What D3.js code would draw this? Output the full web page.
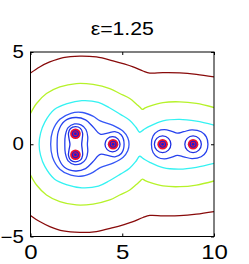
<!DOCTYPE html>
<html lang="en">
<head>
<meta charset="UTF-8">
<title>eps 1.25</title>
<script src="https://cdn.jsdelivr.net/npm/d3@7"></script>
<style>
    body { margin: 0; background: #fff; }
    svg text { font-family: "Liberation Sans", Arial, sans-serif; fill: #000; }
</style>
</head>
<body>
<script>
    const w = 249, h = 264;

    const title = "ε=1.25";
    const xTicks = [0, 5, 10];
    const yTicks = [-5, 0, 5];

    // charge positions
    const charges = [[2.45, 0.57], [2.45, -0.57], [4.5, 0], [7.2, 0], [8.86, 0]];

    // upper halves of the contour lines (picture is symmetric about y = 0)
    const darkRedTop = [[0, 3.86], [0.5, 4.19], [1.05, 4.46], [1.78, 4.7], [2.69, 4.78], [3.59, 4.73], [4.5, 4.52],
        [5.1, 4.35], [5.59, 4.19], [6.13, 3.97], [6.5, 3.86], [7.22, 3.88], [8.13, 3.87], [9.04, 3.79], [10, 3.65]];
    const yellowTop = [[0, 1.67], [0.33, 2.21], [0.87, 2.75], [1.6, 3.11], [2.5, 3.29], [3.41, 3.24], [4.32, 3.02],
        [4.86, 2.75], [5.41, 2.48], [5.75, 2.2], [5.97, 2.0], [6.1, 1.89], [6.25, 1.97], [6.5, 2.07], [7.22, 2.26],
        [8.13, 2.3], [9.04, 2.21], [10, 1.99]];
    // runs from the right edge round the left group back to y = 0
    const cyanTop = [[10, 1.04], [9.04, 1.25], [8.13, 1.35], [7.22, 1.27], [6.5, 0.98], [6.15, 0.78], [5.95, 0.65],
        [5.75, 0.92], [5.4, 1.3], [4.9, 1.62], [4.3, 1.98], [3.7, 2.27], [2.8, 2.36], [2.0, 2.2], [1.3, 1.88],
        [0.78, 1.2], [0.55, 0.6], [0.47, 0]];
    const blueOuterTop = [[1.1, 0], [1.2, 0.7], [1.6, 1.35], [2.2, 1.68], [2.85, 1.72], [3.4, 1.52], [3.8, 1.27],
        [4.5, 1.02], [5.05, 0.7], [5.3, 0.35], [5.37, 0]];
    const blueSecondTop = [[1.45, 0], [1.52, 0.7], [1.85, 1.25], [2.45, 1.45], [3.0, 1.32], [3.4, 0.95], [3.8, 0.55],
        [4.2, 0.6], [4.6, 0.68], [4.95, 0.5], [5.1, 0]];
    const pairOvalTop = [[1.87, 0], [1.9, 0.5], [2.05, 0.9], [2.4, 1.1], [2.75, 1.05], [3.02, 0.8], [3.12, 0.4], [3.1, 0]];
    const pairInnerTop = [[2.15, 0], [2.1, 0.3], [2.07, 0.6], [2.18, 0.85], [2.45, 0.95], [2.72, 0.86], [2.84, 0.6],
        [2.82, 0.3], [2.79, 0]];
    const rightPairTop = [[6.59, 0], [6.68, 0.45], [6.95, 0.72], [7.3, 0.79], [7.7, 0.7], [8.0, 0.6], [8.35, 0.68],
        [8.8, 0.78], [9.3, 0.68], [9.58, 0.4], [9.67, 0]];
    // single rings [cx, cy, r]
    const rings = [[4.47, 0, 0.41], [7.2, 0, 0.45], [8.86, 0, 0.45]];

    const colDarkRed = "#880a0a", colYellow = "#b6f22a", colCyan = "#34f2f2",
        colBlueOut = "#3456f6", colBlue = "#2742ee", colBlueIn = "#1f30e2";

    const x = d3.scaleLinear().domain([0, 10]).range([30.5, 214]);
    const y = d3.scaleLinear().domain([-5, 5]).range([236.5, 52]);

    const svg = d3.select("body").append("svg")
        .attr("width", w)
        .attr("height", h);

    svg.append("clipPath").attr("id", "plotclip")
        .append("rect")
        .attr("x", x(0)).attr("y", y(5))
        .attr("width", x(10) - x(0)).attr("height", y(-5) - y(5));

    const mirror = (p) => [p[0], -p[1]];

    const openLine = d3.line().x(d => x(d[0])).y(d => y(d[1])).curve(d3.curveCatmullRom.alpha(0.5));
    const closedLine = d3.line().x(d => x(d[0])).y(d => y(d[1])).curve(d3.curveCatmullRomClosed.alpha(0.5));

    // closed curve from its upper half (first and last points on y = 0)
    const closeUp = (top) => top.concat(top.slice(1, -1).reverse().map(mirror));

    const curves = [
        { pts: darkRedTop, col: colDarkRed, closed: false },
        { pts: darkRedTop.map(mirror), col: colDarkRed, closed: false },
        { pts: yellowTop, col: colYellow, closed: false },
        { pts: yellowTop.map(mirror), col: colYellow, closed: false },
        { pts: cyanTop.concat(cyanTop.slice(0, -1).reverse().map(mirror)), col: colCyan, closed: false },
        { pts: closeUp(blueOuterTop), col: colBlueOut, closed: true },
        { pts: closeUp(blueSecondTop), col: colBlue, closed: true },
        { pts: closeUp(pairOvalTop), col: colBlue, closed: true },
        { pts: closeUp(pairInnerTop), col: colBlueIn, closed: true },
        { pts: closeUp(rightPairTop), col: colBlue, closed: true }
    ];

    const plot = svg.append("g").attr("clip-path", "url(#plotclip)");

    plot.selectAll("path.contour")
        .data(curves)
        .enter()
        .append("path")
        .attr("class", "contour")
        .attr("d", d => d.closed ? closedLine(d.pts) : openLine(d.pts))
        .attr("fill", "none")
        .attr("stroke", d => d.col)
        .attr("stroke-width", 1.3);

    plot.selectAll("ellipse.ring")
        .data(rings)
        .enter()
        .append("ellipse")
        .attr("class", "ring")
        .attr("cx", d => x(d[0]))
        .attr("cy", d => y(d[1]))
        .attr("rx", d => x(d[2]) - x(0))
        .attr("ry", d => y(0) - y(d[2]))
        .attr("fill", "none")
        .attr("stroke", colBlueIn)
        .attr("stroke-width", 1.3);

    // markers: red disc with the tiny blue rings inside
    const marks = plot.selectAll("g.charge")
        .data(charges)
        .enter()
        .append("g")
        .attr("class", "charge")
        .attr("transform", d => "translate(" + x(d[0]) + "," + y(d[1]) + ")");
    marks.append("circle").attr("r", 5.3).attr("fill", "#ee1030");
    marks.append("circle").attr("r", 3).attr("fill", "none").attr("stroke", "#1a1ad8").attr("stroke-width", 1.2);
    marks.append("circle").attr("r", 1.4).attr("fill", "#1a1ad8");

    // frame
    svg.append("rect")
        .attr("x", x(0)).attr("y", y(5))
        .attr("width", x(10) - x(0)).attr("height", y(-5) - y(5))
        .attr("fill", "none")
        .attr("stroke", "#000")
        .attr("stroke-width", 1);

    // ticks (inward) on all four sides
    const xAxis = svg.append("g")
        .attr("transform", "translate(0," + y(-5) + ")")
        .call(d3.axisBottom(x).tickValues(xTicks).tickSizeInner(-3).tickSizeOuter(0).tickPadding(8.5));
    svg.append("g")
        .attr("transform", "translate(0," + y(5) + ")")
        .call(d3.axisTop(x).tickValues(xTicks).tickSizeInner(-3).tickSizeOuter(0).tickFormat(""));
    const yAxis = svg.append("g")
        .attr("transform", "translate(" + x(0) + ",0)")
        .call(d3.axisLeft(y).tickValues(yTicks).tickSizeInner(-3).tickSizeOuter(0).tickPadding(6.7));
    svg.append("g")
        .attr("transform", "translate(" + x(10) + ",0)")
        .call(d3.axisRight(y).tickValues(yTicks).tickSizeInner(-3).tickSizeOuter(0).tickFormat(""));

    svg.selectAll(".domain").remove();
    svg.selectAll(".tick line").attr("stroke", "#000");

    xAxis.selectAll("text")
        .attr("font-size", 20)
        .attr("font-family", null)
        .attr("transform", "scale(1.2,1)");
    yAxis.selectAll("text")
        .attr("font-size", 17.5)
        .attr("font-family", null)
        .attr("x", -6.7 / 1.17)
        .attr("transform", "scale(1.17,1)");

    svg.append("text")
        .attr("transform", "translate(122.3,34.5) scale(1.12,1)")
        .attr("text-anchor", "middle")
        .attr("font-size", 19)
        .text(title);
</script>
</body>
</html>
